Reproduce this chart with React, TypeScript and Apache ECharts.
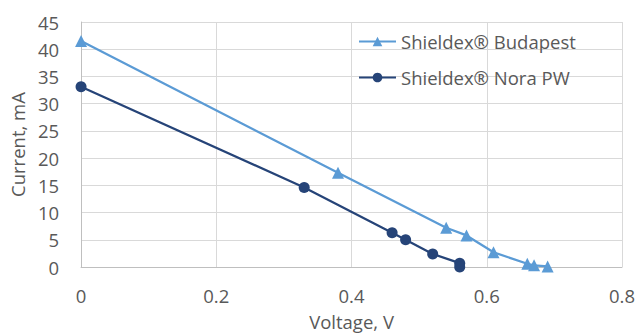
import React, { useEffect, useRef } from "react";
import * as echarts from "echarts";

const budapestX = [0, 0.38, 0.54, 0.57, 0.61, 0.66, 0.67, 0.69];
const budapestY = [41.5, 17.3, 7.2, 5.8, 2.7, 0.6, 0.3, 0.1];
const noraX = [0, 0.33, 0.46, 0.48, 0.52, 0.56, 0.56];
const noraY = [33.1, 14.6, 6.3, 5.0, 2.4, 0.7, 0.0];
const seriesNames = ["Shieldex® Budapest", "Shieldex® Nora PW"];

const FONT = "Open Sans";
const TEXT = "#595959";
const FS = 18.5;

export default function App() {
  const ref = useRef<HTMLDivElement>(null);
  useEffect(() => {
    const chart = echarts.init(ref.current!, null, { renderer: "svg" });
    chart.setOption({
      animation: false,
      textStyle: { fontFamily: FONT, color: TEXT },
      grid: { left: 79, right: 16, top: 22, bottom: 64, containLabel: false },
      legend: {
        left: 353,
        top: 27,
        padding: 5,
        orient: "vertical",
        itemGap: 17,
        itemWidth: 37,
        itemHeight: 12,
        textStyle: { fontFamily: FONT, fontSize: FS, color: TEXT },
        data: seriesNames,
      },
      xAxis: {
        type: "value",
        min: 0,
        max: 0.8,
        interval: 0.2,
        name: "Voltage, V",
        nameLocation: "middle",
        nameGap: 45,
        nameTextStyle: { fontFamily: FONT, fontSize: FS, color: TEXT },
        axisLine: { show: true, lineStyle: { color: "#bfbfbf", width: 1 } },
        axisTick: { show: false },
        axisLabel: { fontFamily: FONT, fontSize: FS, color: TEXT, margin: 19, formatter: (v: number) => String(+v.toFixed(1)) },
        splitLine: { show: true, lineStyle: { color: "#d9d9d9" } },
      },
      yAxis: {
        type: "value",
        min: 0,
        max: 45,
        interval: 5,
        name: "Current, mA",
        nameLocation: "middle",
        nameGap: 50,
        nameRotate: 90,
        nameTextStyle: { fontFamily: FONT, fontSize: FS, color: TEXT },
        axisLine: { show: true, lineStyle: { color: "#bfbfbf", width: 1 } },
        axisTick: { show: false },
        axisLabel: { fontFamily: FONT, fontSize: FS, color: TEXT, margin: 22 },
        splitLine: { show: true, lineStyle: { color: "#d9d9d9" } },
      },
      series: [
        {
          name: seriesNames[0],
          type: "line",
          data: budapestX.map((x, i) => [x, budapestY[i]]),
          symbol: "triangle",
          symbolSize: 12,
          itemStyle: { color: "#5B9BD5" },
          lineStyle: { color: "#5B9BD5", width: 2.25 },
        },
        {
          name: seriesNames[1],
          type: "line",
          data: noraX.map((x, i) => [x, noraY[i]]),
          symbol: "circle",
          symbolSize: 11,
          itemStyle: { color: "#264478" },
          lineStyle: { color: "#264478", width: 2.25 },
        },
      ],
    });
    return () => chart.dispose();
  }, []);
  return <div ref={ref} style={{ width: 638, height: 336, position: "absolute", left: 0, top: 0 }} />;
}
